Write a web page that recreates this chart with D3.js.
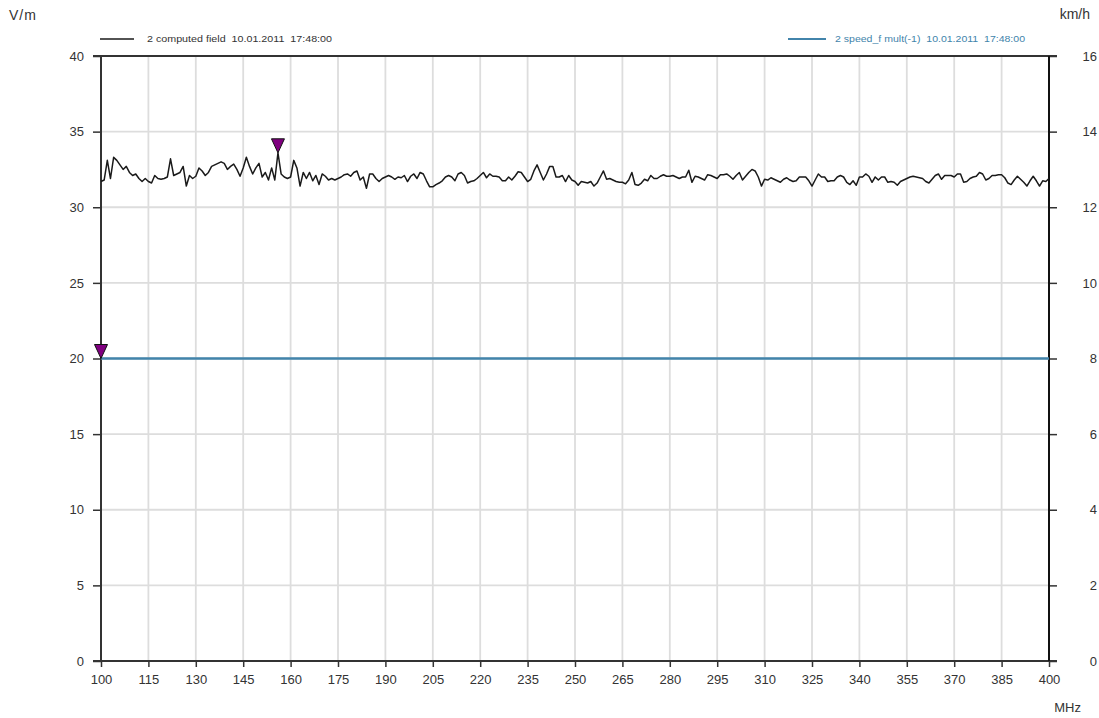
<!DOCTYPE html>
<html>
<head>
<meta charset="utf-8">
<script src="https://cdn.jsdelivr.net/npm/d3@7"></script>
<style>
  body { margin: 0; background: #fff; }
  text { font-family: "Liberation Sans", Arial, sans-serif; }
</style>
</head>
<body>
<svg id="chart" width="1099" height="718"></svg>
<script>
// sweep 100..400 MHz, 1 MHz step
var freqs = d3.range(100, 401, 1)

var fieldVals = [
  31.7, 31.8, 33.1, 31.9, 33.3, 33.1, 32.8, 32.5, 32.7, 32.3,
  32.1, 32.2, 31.9, 31.7, 31.9, 31.7, 31.6, 32.1, 31.9, 31.85,
  31.9, 32.0, 33.2, 32.1, 32.2, 32.3, 32.7, 31.4, 32.1, 31.9,
  32.05, 32.6, 32.4, 32.1, 32.3, 32.7, 32.8, 32.9, 33.0, 32.9,
  32.5, 32.7, 32.85, 32.5, 32.05, 32.6, 33.3, 32.7, 32.2, 32.6,
  32.9, 32.0, 32.3, 31.8, 32.6, 31.8, 33.6, 32.2, 32.0, 31.9,
  32.0, 33.1, 32.6, 31.4, 32.3, 31.9, 32.3, 31.75, 32.1, 31.5,
  32.2, 32.05, 31.8, 31.9, 31.8, 31.9, 32.0, 32.15, 32.2, 32.05,
  32.3, 32.4, 31.8, 32.0, 31.25, 32.2, 32.2, 31.9, 31.7, 31.9,
  32.0, 32.1, 32.0, 31.85, 32.0, 31.95, 32.1, 31.7, 32.05, 32.2,
  31.9, 32.3, 32.2, 31.75, 31.35, 31.35, 31.5, 31.6, 31.75, 32.0,
  32.1, 32.0, 31.75, 32.2, 32.3, 32.1, 31.6, 31.7, 31.75, 31.9,
  32.1, 32.3, 31.95, 32.2, 32.05, 32.05, 32.0, 31.75, 31.75, 32.0,
  31.8, 32.05, 32.35, 32.3, 32.0, 31.7, 31.85, 32.4, 32.8, 32.3,
  31.8, 32.2, 32.7, 32.7, 32.0, 32.0, 32.1, 31.7, 32.1, 31.8,
  31.7, 31.45, 31.7, 31.65, 31.6, 31.7, 31.4, 31.6, 32.0, 32.4,
  31.85, 31.9, 31.8, 31.7, 31.65, 31.65, 31.55, 31.8, 32.3, 31.5,
  31.45, 31.6, 31.85, 31.75, 32.1, 31.9, 31.9, 32.05, 32.15, 32.05,
  32.05, 32.1, 32.0, 31.9, 32.0, 32.0, 32.45, 31.65, 32.05, 32.0,
  31.9, 31.8, 32.15, 32.1, 32.0, 31.9, 32.15, 32.15, 32.2, 32.05,
  31.85, 32.1, 32.3, 31.8, 32.05, 32.3, 32.5, 32.4, 32.0, 31.4,
  31.85, 31.8, 31.95, 31.85, 31.75, 31.65, 31.85, 31.95, 31.8, 31.7,
  31.75, 32.0, 32.0, 32.0, 31.75, 31.4, 31.8, 32.2, 32.0, 32.0,
  31.7, 31.75, 31.75, 32.0, 32.1, 32.0, 31.65, 31.5, 31.75, 31.45,
  32.0, 32.0, 32.2, 32.05, 31.65, 32.0, 31.8, 32.0, 32.0, 31.65,
  31.7, 31.65, 31.45, 31.7, 31.8, 31.9, 32.0, 32.05, 32.0, 31.95,
  31.9, 31.7, 31.6, 31.85, 32.1, 32.2, 31.85, 32.1, 32.1, 32.1,
  32.0, 32.2, 32.2, 31.65, 31.7, 31.9, 32.0, 32.05, 32.3, 32.2,
  31.8, 31.9, 32.1, 32.1, 32.15, 32.15, 31.95, 31.6, 31.5, 31.8,
  32.05, 31.85, 31.65, 31.4, 31.75, 32.05, 31.75, 31.4, 31.75, 31.7,
  31.9
]

var speedFreqs = [100, 400]
var speedVals = [8, 8]

var fieldMarkerFreq = 156
var speedMarkerFreq = 100

var xTicks = d3.range(100, 401, 15)
var yLeftTicks = [0, 5, 10, 15, 20, 25, 30, 35, 40]
var yRightTicks = [0, 2, 4, 6, 8, 10, 12, 14, 16]

var fieldLabel = "2 computed field  10.01.2011  17:48:00"
var speedLabel = "2 speed_f mult(-1)  10.01.2011  17:48:00"

var svg = d3.select("#chart")

var pLeft = 101, pRight = 1049, pTop = 56, pBottom = 661

var x = d3.scaleLinear().domain([100, 400]).range([pLeft, pRight])
var yL = d3.scaleLinear().domain([0, 40]).range([pBottom, pTop])
var yR = d3.scaleLinear().domain([0, 16]).range([pBottom, pTop])

var axisColor = "#333"
var gridColor = "#dddddd"
var blue = "#4284ab"

// grid
var grid = svg.append("g")
grid.selectAll(".vg").data(xTicks.filter(function(d){ return d > 100 && d < 400 })).enter()
    .append("line")
    .attr("x1", function(d){ return x(d) }).attr("x2", function(d){ return x(d) })
    .attr("y1", pTop).attr("y2", pBottom)
    .attr("stroke", gridColor).attr("stroke-width", 1.8)
grid.selectAll(".hg").data(yLeftTicks.filter(function(d){ return d > 0 && d < 40 })).enter()
    .append("line")
    .attr("x1", pLeft).attr("x2", pRight)
    .attr("y1", function(d){ return yL(d) }).attr("y2", function(d){ return yL(d) })
    .attr("stroke", gridColor).attr("stroke-width", 1.8)

// axes
function styleAxis(g) {
  g.select(".domain").remove()
  g.selectAll(".tick line").attr("stroke", axisColor).attr("stroke-width", 1.5)
  g.selectAll(".tick text").attr("fill", "#333").attr("font-size", 13)
    .attr("font-family", "Liberation Sans, Arial, sans-serif")
}

svg.append("g")
   .attr("transform", "translate(0," + pBottom + ")")
   .call(d3.axisBottom(x).tickValues(xTicks).tickSize(6).tickPadding(8).tickFormat(d3.format("d")))
   .call(styleAxis)

svg.append("g")
   .attr("transform", "translate(" + pLeft + ",0)")
   .call(d3.axisLeft(yL).tickValues(yLeftTicks).tickSize(8).tickPadding(9).tickFormat(d3.format("d")))
   .call(styleAxis)

var rAxis = svg.append("g")
   .attr("transform", "translate(" + pRight + ",0)")
   .call(d3.axisRight(yR).tickValues(yRightTicks).tickSize(8).tickPadding(40).tickFormat(d3.format("d")))
   .call(styleAxis)
rAxis.selectAll(".tick text").attr("text-anchor", "end").attr("x", 48)

// frame lines
svg.append("line").attr("x1", pLeft - 8).attr("x2", pRight + 8).attr("y1", pTop).attr("y2", pTop)
   .attr("stroke", axisColor).attr("stroke-width", 2)
svg.append("line").attr("x1", pLeft - 8).attr("x2", pRight + 8).attr("y1", pBottom).attr("y2", pBottom)
   .attr("stroke", axisColor).attr("stroke-width", 2)
svg.append("line").attr("x1", pLeft).attr("x2", pLeft).attr("y1", pTop).attr("y2", pBottom)
   .attr("stroke", axisColor).attr("stroke-width", 2)
svg.append("line").attr("x1", pRight).attr("x2", pRight).attr("y1", pTop).attr("y2", pBottom)
   .attr("stroke", "#111").attr("stroke-width", 2)

// series
var fieldData = freqs.map(function(f, i){ return [f, fieldVals[i]] })
var speedData = speedFreqs.map(function(f, i){ return [f, speedVals[i]] })

svg.append("path")
   .datum(speedData)
   .attr("fill", "none")
   .attr("stroke", blue)
   .attr("stroke-width", 2.5)
   .attr("d", d3.line().x(function(d){ return x(d[0]) }).y(function(d){ return yR(d[1]) }))

svg.append("path")
   .datum(fieldData)
   .attr("fill", "none")
   .attr("stroke", "#1a1a1a")
   .attr("stroke-width", 1.5)
   .attr("stroke-linejoin", "round")
   .attr("d", d3.line().x(function(d){ return x(d[0]) }).y(function(d){ return yL(d[1]) }))

// markers
function marker(px, py) {
  svg.append("path")
     .attr("d", "M" + px + "," + py + " L" + (px - 6.5) + "," + (py - 14) + " L" + (px + 6.5) + "," + (py - 14) + " Z")
     .attr("fill", "#800080")
     .attr("stroke", "#111")
     .attr("stroke-width", 1)
}
marker(x(speedMarkerFreq), yR(speedVals[0]))
marker(x(fieldMarkerFreq), yL(fieldVals[freqs.indexOf(fieldMarkerFreq)]))

// legends
svg.append("line").attr("x1", 100).attr("x2", 134).attr("y1", 39).attr("y2", 39)
   .attr("stroke", "#1a1a1a").attr("stroke-width", 1.3)
svg.append("text").attr("x", 147).attr("y", 42).text(fieldLabel)
   .attr("font-size", 9.5).attr("fill", "#333").style("white-space", "pre")
   .attr("textLength", 185).attr("lengthAdjust", "spacingAndGlyphs")

svg.append("line").attr("x1", 788).attr("x2", 826).attr("y1", 39).attr("y2", 39)
   .attr("stroke", blue).attr("stroke-width", 1.8)
svg.append("text").attr("x", 835).attr("y", 42).text(speedLabel)
   .attr("font-size", 9.5).attr("fill", blue).style("white-space", "pre")
   .attr("textLength", 190).attr("lengthAdjust", "spacingAndGlyphs")

// units
svg.append("text").attr("x", 9).attr("y", 20).text("V/m").attr("font-size", 14).attr("fill", "#333")
   .attr("letter-spacing", 1)
svg.append("text").attr("x", 1090).attr("y", 19).text("km/h").attr("font-size", 14).attr("fill", "#333")
   .attr("text-anchor", "end")
svg.append("text").attr("x", 1081).attr("y", 712).text("MHz").attr("font-size", 13).attr("fill", "#333")
   .attr("text-anchor", "end")
</script>
</body>
</html>
